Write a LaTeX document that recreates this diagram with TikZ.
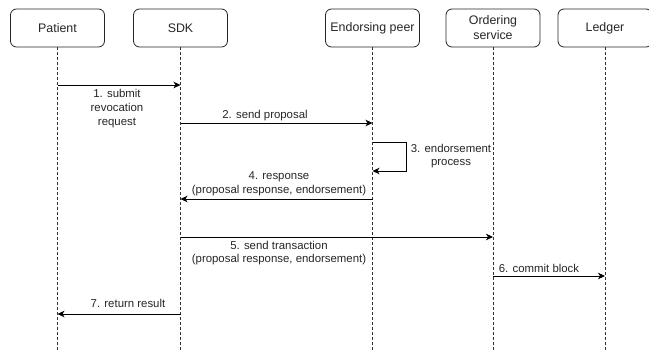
\documentclass[tikz,border=0pt]{standalone}
\usepackage{fontspec}
\setmainfont{Liberation Sans}
\usetikzlibrary{arrows.meta}
\begin{document}
\begin{tikzpicture}[x=1pt,y=-1pt,
  actor/.style={draw=black!85,line width=0.8pt,rounded corners=6pt,
    minimum width=94pt,minimum height=38pt,inner sep=0pt,align=center,
    text=black!85,font=\fontsize{12.4}{15}\selectfont},
  lifeline/.style={draw=black!80,line width=0.7pt,dash pattern=on 3pt off 2pt},
  msg/.style={draw=black,line width=0.8pt,-{Stealth[length=7pt,width=6.5pt,inset=2pt]}},
  lbl/.style={inner sep=0pt,align=center,text=black!85,font=\fontsize{11.4}{13.8}\selectfont}]
\useasboundingbox (0,0) rectangle (649,352);
\fill[white] (0,0) rectangle (649,352);

% participants
\node[actor] (patient) at (57.5,28) {Patient};
\node[actor] (sdk) at (180.5,28) {SDK};
\node[actor] (peer) at (372.5,28) {Endorsing peer};
\node[actor] (orderer) at (493,28) {Ordering\\service};
\node[actor] (ledger) at (605,28) {Ledger};

% bottom ends of the lifelines
\coordinate (patientEnd) at (57.5,352);
\coordinate (sdkEnd) at (180.5,352);
\coordinate (peerEnd) at (372.5,352);
\coordinate (ordererEnd) at (493,352);
\coordinate (ledgerEnd) at (605,352);

\draw[lifeline] (patient.south) -- (patientEnd);
\draw[lifeline] (sdk.south) -- (sdkEnd);
\draw[lifeline] (peer.south) -- (peerEnd);
\draw[lifeline] (orderer.south) -- (ordererEnd);
\draw[lifeline] (ledger.south) -- (ledgerEnd);

% message anchor points on the lifelines
\coordinate (m1a) at (57.5,85);   \coordinate (m1b) at (180.5,85);
\coordinate (m2a) at (180.5,123); \coordinate (m2b) at (372.5,123);
\coordinate (m3a) at (372.5,142); \coordinate (m3b) at (372.5,171);
\coordinate (m4a) at (372.5,199); \coordinate (m4b) at (180.5,199);
\coordinate (m5a) at (180.5,237); \coordinate (m5b) at (493,237);
\coordinate (m6a) at (493,276);   \coordinate (m6b) at (605,276);
\coordinate (m7a) at (180.5,314); \coordinate (m7b) at (57.5,314);

% messages
\draw[msg] (m1a) -- (m1b);
\draw[msg] (m2a) -- (m2b);
\draw[msg] (m3a) -- ++(34,0) |- (m3b);
\draw[msg] (m4a) -- (m4b);
\draw[msg] (m5a) -- (m5b);
\draw[msg] (m6a) -- (m6b);
\draw[msg] (m7a) -- (m7b);

% message labels
\node[lbl] (l1) at (117,108.5) {1. submit\\revocation\\request};
\node[lbl] (l2) at (265,116) {2. send proposal};
\node[lbl] (l3) at (451,156) {3. endorsement\\process};
\node[lbl] (l4) at (279,184) {4. response\\(proposal response, endorsement)};
\node[lbl] (l5) at (279,253) {5. send transaction\\(proposal response, endorsement)};
\node[lbl] (l6) at (539,268) {6. commit block};
\node[lbl] (l7) at (128,303) {7. return result};
\end{tikzpicture}
\end{document}
